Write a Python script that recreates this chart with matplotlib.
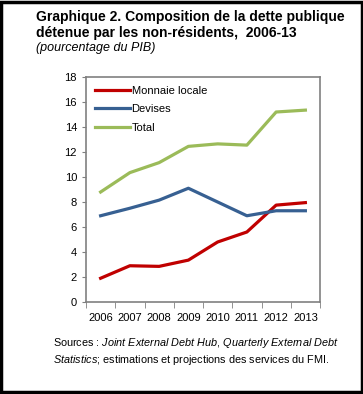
import matplotlib.pyplot as plt
from matplotlib.patches import Rectangle

plt.rcParams["font.family"] = ["Liberation Sans", "DejaVu Sans"]
plt.rcParams["mathtext.fontset"] = "custom"
plt.rcParams["mathtext.rm"] = "Liberation Sans"
plt.rcParams["mathtext.it"] = "Liberation Sans:italic"

years = ["2006", "2007", "2008", "2009", "2010", "2011", "2012", "2013"]
monnaie_locale = [1.9, 2.9, 2.85, 3.35, 4.8, 5.6, 7.75, 7.95]
devises = [6.9, 7.5, 8.15, 9.1, 8.0, 6.9, 7.3, 7.3]
total = [8.8, 10.35, 11.15, 12.45, 12.65, 12.55, 15.2, 15.35]

fig = plt.figure(figsize=(3.63, 3.94), dpi=100)
ax = fig.add_axes([86 / 363, 1 - 302 / 394, 234 / 363, 225 / 394])

x = range(len(years))
ax.plot(x, monnaie_locale, c="#C00000", lw=2.3, label="Monnaie locale")
ax.plot(x, devises, c="#376092", lw=2.3, label="Devises")
ax.plot(x, total, c="#9BBB59", lw=2.3, label="Total")

ax.set_xlim(-0.5, 7.5)
ax.set_ylim(0, 18)
ax.set_yticks(range(0, 19, 2))
ax.set_xticks(x)
ax.set_xticklabels(years)
ax.set_xticks([i + 0.5 for i in range(-1, 8)], minor=True)
ax.tick_params(axis="x", which="major", length=0, labelsize=8, pad=8)
ax.tick_params(axis="x", which="minor", length=4, color="#808080", direction="out")
ax.tick_params(axis="y", labelsize=8, length=3, color="#808080", direction="out")
for s in ax.spines.values():
    s.set_color("#808080")
    s.set_linewidth(1.2)

ax.legend(loc="upper left", frameon=False, fontsize=8, handlelength=3.2,
          handletextpad=0.1, labelspacing=0.75, borderaxespad=0.4)

# Titles and sources
fig.text(36 / 363, 1 - 17 / 394, "Graphique 2. Composition de la dette publique",
         fontsize=10, fontweight="bold", va="center")
fig.text(36 / 363, 1 - 33 / 394, "détenue par les non-résidents,  2006-13",
         fontsize=10, fontweight="bold", va="center")
fig.text(36 / 363, 1 - 48 / 394, "(pourcentage du PIB)",
         fontsize=9, style="italic", va="center")

fig.text(53 / 363, 1 - 343 / 394,
         "Sources : $\\it{Joint\\ External\\ Debt\\ Hub}$, $\\it{Quarterly\\ External\\ Debt}$",
         fontsize=7.8, va="center")
fig.text(53 / 363, 1 - 360 / 394,
         "$\\it{Statistics}$; estimations et projections des services du FMI.",
         fontsize=7.8, va="center")

fig.patches.append(Rectangle((0.004, 0.004), 0.992, 0.992, transform=fig.transFigure,
                             fill=False, edgecolor="black", lw=2.5))

fig.savefig("out.png", dpi=100)
